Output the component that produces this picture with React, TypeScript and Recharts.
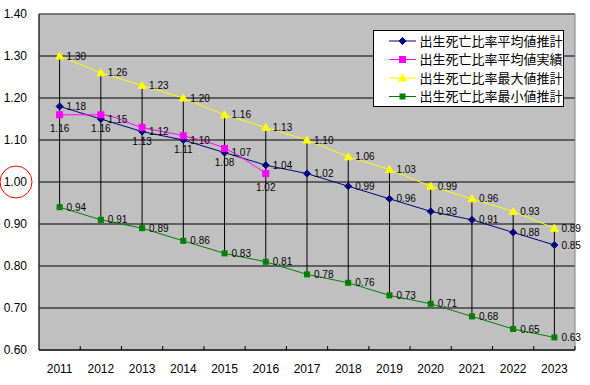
import React from 'react';
import { ComposedChart, Line, Bar, XAxis, YAxis, CartesianGrid, Legend, LabelList, ReferenceArea } from 'recharts';

const years = ['2011', '2012', '2013', '2014', '2015', '2016', '2017', '2018', '2019', '2020', '2021', '2022', '2023'];
const avgEstimate = [1.18, 1.15, 1.12, 1.10, 1.07, 1.04, 1.02, 0.99, 0.96, 0.93, 0.91, 0.88, 0.85];
const avgActual = [1.16, 1.16, 1.13, 1.11, 1.08, 1.02];
const maxEstimate = [1.30, 1.26, 1.23, 1.20, 1.16, 1.13, 1.10, 1.06, 1.03, 0.99, 0.96, 0.93, 0.89];
const minEstimate = [0.94, 0.91, 0.89, 0.86, 0.83, 0.81, 0.78, 0.76, 0.73, 0.71, 0.68, 0.65, 0.63];
const yTicks = [0.6, 0.7, 0.8, 0.9, 1.0, 1.1, 1.2, 1.3, 1.4];
const seriesNames = ['出生死亡比率平均値推計', '出生死亡比率平均値実績', '出生死亡比率最大値推計', '出生死亡比率最小値推計'];

const data = years.map((y, i) => ({
  year: y,
  avgEst: avgEstimate[i],
  avgAct: i < avgActual.length ? avgActual[i] : null,
  maxEst: maxEstimate[i],
  minEst: minEstimate[i],
  hl: [minEstimate[i], maxEstimate[i]],
}));

const NAVY = '#000080';
const MAGENTA = '#ff00ff';
const YELLOW = '#ffff00';
const GREEN = '#008000';
const numFont = '"Liberation Sans", Arial, sans-serif';
const BAND = 536 / 13;

const fmt = (v: any) => (v == null ? '' : Number(v).toFixed(2));

const marker = (kind: string, cx: number, cy: number, color: string, key?: string) => {
  if (kind === 'diamond') {
    return <polygon key={key} points={`${cx},${cy - 3.5} ${cx + 3.5},${cy} ${cx},${cy + 3.5} ${cx - 3.5},${cy}`} fill={color} stroke={color} />;
  }
  if (kind === 'square') {
    return <rect key={key} x={cx - 3} y={cy - 3} width={6} height={6} fill={color} stroke={color} />;
  }
  if (kind === 'small') {
    return <rect key={key} x={cx - 2.5} y={cy - 2.5} width={5} height={5} fill={color} stroke={color} />;
  }
  return <polygon key={key} points={`${cx},${cy - 4} ${cx + 4},${cy + 3} ${cx - 4},${cy + 3}`} fill={color} stroke={color} />;
};

const dotFn = (kind: string, color: string) => (p: any) => {
  if (p.cx == null || p.cy == null || p.value == null) return <g key={`e-${kind}-${p.index}`} />;
  return marker(kind, p.cx, p.cy, color, `${kind}-${p.index}`);
};

const HighLow = (props: any) => {
  const { x, y, width, height } = props;
  const cx = x + width / 2;
  const top = Math.min(y, y + height);
  const bottom = Math.max(y, y + height);
  return <line x1={cx} x2={cx} y1={top} y2={bottom} stroke="#000" strokeWidth={1} />;
};

const XTick = (props: any) => {
  const { x, y, payload } = props;
  return (
    <g>
      <line x1={x + BAND / 2} x2={x + BAND / 2} y1={y} y2={y - 4} stroke="#000" />
      <text x={x} y={y + 23} textAnchor="middle" fontSize={12} fontFamily={numFont} fill="#000">{payload.value}</text>
    </g>
  );
};

const YTick = (props: any) => {
  const { x, y, payload } = props;
  const v = Number(payload.value);
  return (
    <g>
      <text x={x} y={y + 4.3} textAnchor="end" fontSize={12} fontFamily={numFont} fill="#000">{v.toFixed(2)}</text>
      {Math.abs(v - 1) < 1e-6 && <ellipse cx={x - 11} cy={y} rx={16} ry={16} fill="none" stroke="#ff0000" strokeWidth={1} />}
    </g>
  );
};

const legendItems = [
  { name: seriesNames[0], color: NAVY, kind: 'diamond' },
  { name: seriesNames[1], color: MAGENTA, kind: 'square' },
  { name: seriesNames[2], color: YELLOW, kind: 'triangle' },
  { name: seriesNames[3], color: GREEN, kind: 'small' },
];

const LegendBox = () => (
  <svg width={192} height={78}>
    <rect x={0.5} y={0.5} width={190} height={76} fill="#fff" stroke="#000" />
    {legendItems.map((it, i) => {
      const cy = 11 + i * 18.5;
      return (
        <g key={it.name}>
          <line x1={16} x2={43} y1={cy} y2={cy} stroke={it.color} />
          {marker(it.kind, 29.5, cy, it.color)}
          <text x={46.5} y={cy + 4.6} fontSize={13} fontFamily={'"Noto Sans CJK JP", sans-serif'} fill="#000">{it.name}</text>
        </g>
      );
    })}
  </svg>
);

const labelProps = { fontSize: 10, fontFamily: numFont, fill: '#000', formatter: fmt };

export default function App() {
  return (
    <div style={{ position: 'absolute', left: 0, top: 0, background: '#fff' }}>
      <ComposedChart width={590} height={385} data={data} margin={{ top: 14, right: 15, left: 0, bottom: 0 }}>
        <CartesianGrid fill="#c0c0c0" stroke="#000" vertical={false} />
        <ReferenceArea y1={0.6} y2={1.4} fill="none" stroke="#808080" ifOverflow="visible" />
        <XAxis dataKey="year" height={35} tickLine={false} tickSize={0} tickMargin={0} axisLine={{ stroke: '#000' }} tick={<XTick />} interval={0} />
        <YAxis domain={[0.6, 1.4]} ticks={yTicks} width={39} tickLine={false} tickSize={0} tickMargin={12} axisLine={{ stroke: '#000' }} tick={<YTick />} interval={0} />
        <Legend layout="vertical" align="center" verticalAlign="middle" content={<LegendBox />} wrapperStyle={{ position: 'absolute', left: 373, top: 30, width: 192, height: 78 }} />
        <Bar dataKey="hl" shape={<HighLow />} isAnimationActive={false} legendType="none" />
        <Line dataKey="minEst" name={seriesNames[3]} stroke={GREEN} strokeWidth={1} dot={dotFn('small', GREEN)} activeDot={false} isAnimationActive={false}>
          <LabelList dataKey="minEst" position="right" offset={7} {...labelProps} />
        </Line>
        <Line dataKey="maxEst" name={seriesNames[2]} stroke={YELLOW} strokeWidth={1} dot={dotFn('triangle', YELLOW)} activeDot={false} isAnimationActive={false}>
          <LabelList dataKey="maxEst" position="right" offset={7} {...labelProps} />
        </Line>
        <Line dataKey="avgEst" name={seriesNames[0]} stroke={NAVY} strokeWidth={1} dot={dotFn('diamond', NAVY)} activeDot={false} isAnimationActive={false}>
          <LabelList dataKey="avgEst" position="right" offset={7} {...labelProps} />
        </Line>
        <Line dataKey="avgAct" type="monotone" name={seriesNames[1]} stroke={MAGENTA} strokeWidth={1} dot={dotFn('square', MAGENTA)} activeDot={false} connectNulls={false} isAnimationActive={false}>
          <LabelList dataKey="avgAct" position="bottom" offset={10} {...labelProps} />
        </Line>
      </ComposedChart>
    </div>
  );
}
